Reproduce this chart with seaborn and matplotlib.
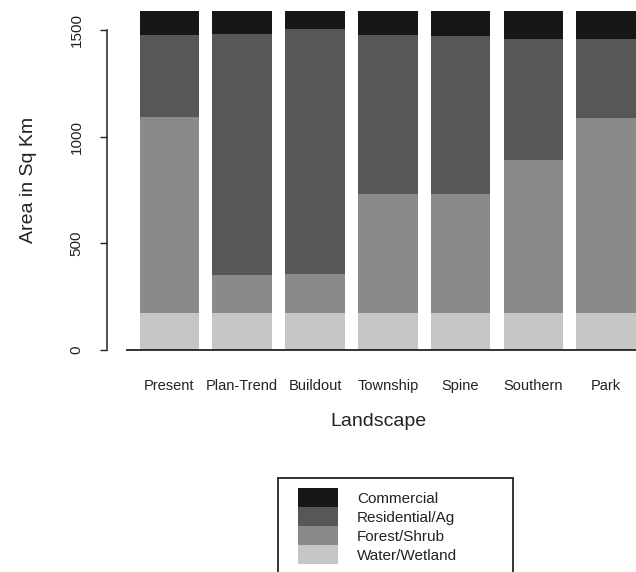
import numpy as np
import pandas as pd
import matplotlib
matplotlib.use("Agg")
import matplotlib.pyplot as plt
from matplotlib.patches import Patch, Rectangle
import seaborn as sns

# Land-cover area (sq km) for each planning landscape
landscapes = ["Present", "Plan-Trend", "Buildout", "Township", "Spine", "Southern", "Park"]
water_wetland = [175, 172, 172, 172, 172, 172, 172]
forest_shrub = [919, 179, 183, 558, 558, 719, 914]
residential_ag = [383, 1129, 1148, 747, 742, 567, 370]
commercial = [113, 110, 87, 113, 118, 132, 134]

classes = ["Commercial", "Residential/Ag", "Forest/Shrub", "Water/Wetland"]
class_colors = ["#171717", "#575757", "#8a8a8a", "#c6c6c6"]

sns.set_style("white")
plt.rcParams["font.family"] = ["Liberation Sans", "DejaVu Sans"]

df = pd.DataFrame({
    "Landscape": landscapes,
    "Water/Wetland": water_wetland,
    "Forest/Shrub": forest_shrub,
    "Residential/Ag": residential_ag,
    "Commercial": commercial,
})
# cumulative heights for stacking (bottom to top)
stack_order = ["Water/Wetland", "Forest/Shrub", "Residential/Ag", "Commercial"]
cum = df[stack_order].cumsum(axis=1)

W, H = 636, 572
fig = plt.figure(figsize=(W / 100, H / 100), dpi=100)
ax = fig.add_axes([127 / W, (H - 350) / H, 1 - 127 / W, 340 / H])

# draw tallest layer first so lower layers overlay it
for name, color in zip(classes, class_colors):
    sns.barplot(x=df["Landscape"], y=cum[name], order=landscapes, color=color,
                saturation=1, width=0.818, linewidth=0, ax=ax, zorder=2)

ax.set_xlim(-0.584, 6.412)
ax.set_ylim(0, 1594)

for s in ["top", "right"]:
    ax.spines[s].set_visible(False)
ax.spines["left"].set_position(("outward", 14.4))
ax.spines["left"].set_bounds(0, 1500)
ax.spines["left"].set_color("#222222")
ax.spines["left"].set_linewidth(1.1)
ax.spines["bottom"].set_color("#222222")
ax.spines["bottom"].set_linewidth(1.3)

ax.set_yticks([0, 500, 1000, 1500])
ax.set_yticklabels(["0", "500", "1000", "1500"])
ax.tick_params(axis="y", left=True, direction="out", length=5, width=1.0, color="#222222",
               labelsize=11, pad=12, labelrotation=90, labelcolor="#222222")
for lab in ax.get_yticklabels():
    lab.set_va("center")
ax.tick_params(axis="x", bottom=False, length=0, labelsize=10.5, pad=21, labelcolor="#222222")

ax.set_xlabel("Landscape", fontsize=14, color="#222222")
ax.xaxis.set_label_coords((378 - 127) / 509, -(413 - 350) / 340)
ax.set_ylabel("Area in Sq Km", fontsize=14, color="#222222")
ax.yaxis.set_label_coords((37 - 127) / 509, (350 - 180) / 340)

# legend with an outer box
handles = [Patch(facecolor=c, edgecolor="none", label=n) for n, c in zip(classes, class_colors)]
fig.legend(handles=handles, loc="upper left", bbox_to_anchor=(298 / W, 1 - 488 / H),
           frameon=False, fontsize=11, handlelength=2.62, handleheight=1.54,
           handletextpad=1.24, labelspacing=0, borderpad=0, borderaxespad=0,
           labelcolor="#222222")
fig.patches.append(Rectangle((278 / W, -0.05), 235 / W, (H - 478) / H + 0.05,
                             transform=fig.transFigure, fill=False,
                             edgecolor="#333333", linewidth=1.4))

fig.savefig("out.png", dpi=100)
